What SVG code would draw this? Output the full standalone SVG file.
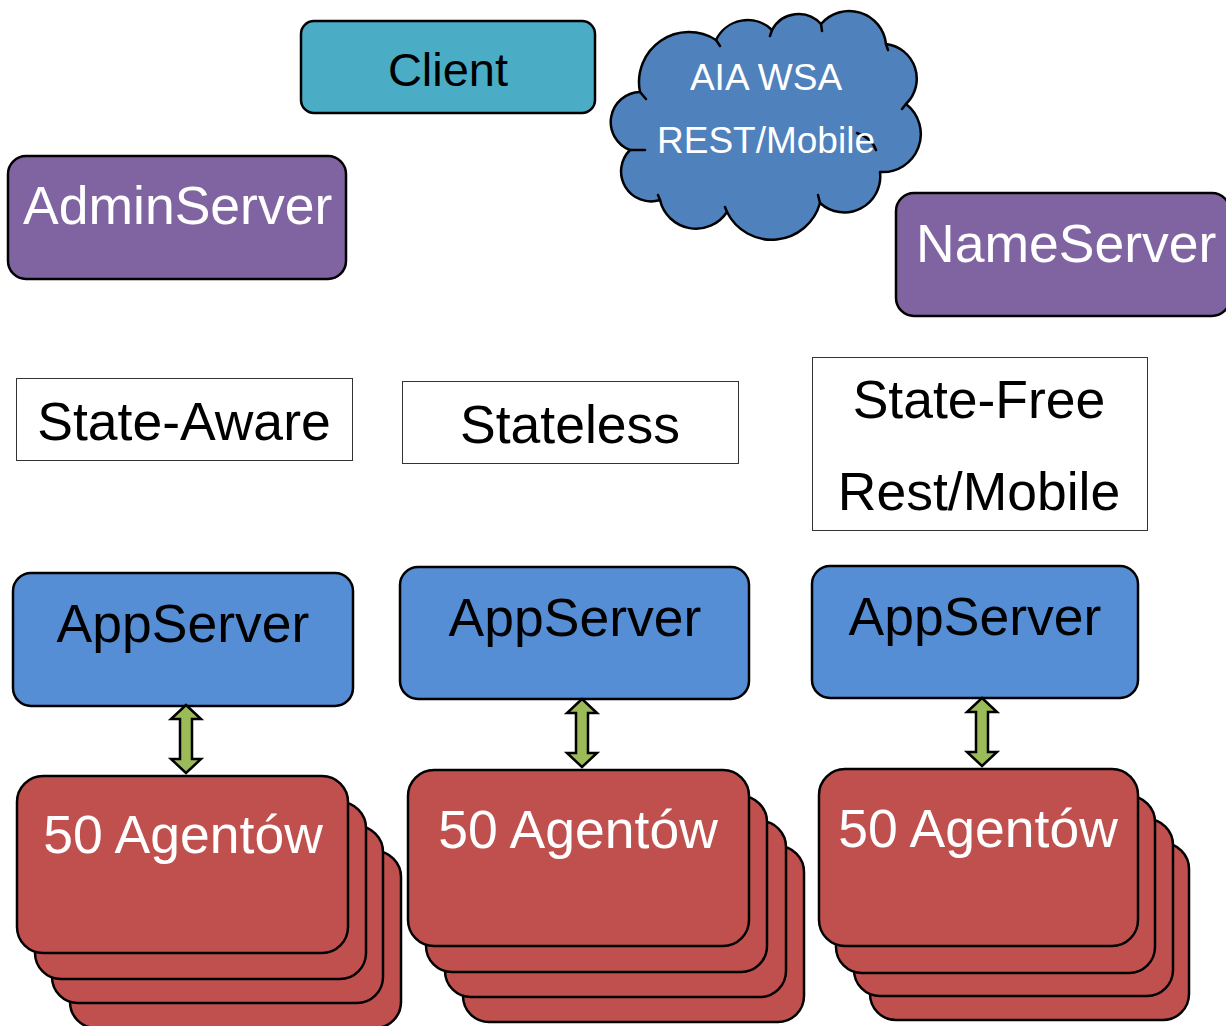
<svg xmlns="http://www.w3.org/2000/svg" width="1226" height="1026" viewBox="0 0 1226 1026">
<style>
  text { font-family: "Liberation Sans", Arial, sans-serif; text-anchor: middle; }
  .box { stroke: #000; stroke-width: 2.5; }
  .client { fill: #4bacc6; }
  .purple { fill: #8064a2; }
  .app { fill: #558ed5; }
  .agent { fill: #c0504d; stroke: #000; stroke-width: 2.5; }
  .label { fill: #fff; stroke: #333; stroke-width: 1; }
  .arrow { fill: #9bbb59; stroke: #000; stroke-width: 2.5; stroke-linejoin: miter; }
  .w { fill: #fff; }
  .k { fill: #000; }
  .big { font-size: 53.5px; }
  .notch { fill: none; stroke: #000; stroke-width: 2.5; stroke-linecap: round; }
</style>

<g id="client">
  <rect class="box client" x="301" y="21" width="294" height="92" rx="13"/>
  <text class="k" x="448" y="86" font-size="47">Client</text>
</g>

<g id="cloud">
  <path fill="#4f81bd" stroke="#000" stroke-width="2.5" stroke-linejoin="round"
    d="M640,92 A50,50 0 0 1 716,40 A35,35 0 0 1 772,30 A30,30 0 0 1 821,24 A37,37 0 0 1 886,44 A35,35 0 0 1 906,104 A38,38 0 0 1 880,172 A36,36 0 0 1 820,203 A50,50 0 0 1 727,212 A37,37 0 0 1 660,200 A30,30 0 0 1 630,150 A30,30 0 0 1 640,92 Z"/>
  <path class="notch" d="M640,92 L646,99 M716,40 L720,46 M772,30 L770,36 M821,24 L822,31 M886,44 L888,50 M906,104 L902,109 M857,133 Q872,138 876,150 M820,203 L818,195 M727,212 L725,207 M660,200 L658,195 M630,150 L645,150"/>
  <text class="w" x="766" y="90" font-size="37">AIA WSA</text>
  <text class="w" x="766" y="153" font-size="37">REST/Mobile</text>
</g>

<g id="adminserver">
  <rect class="box purple" x="8" y="156" width="338" height="123" rx="18"/>
  <text class="w big" x="23" y="224" style="text-anchor:start">AdminServer</text>
</g>

<g id="nameserver">
  <rect class="box purple" x="896" y="193" width="334" height="123" rx="18"/>
  <text class="w big" x="916" y="262" style="text-anchor:start">NameServer</text>
</g>

<g id="state-aware">
  <rect class="label" x="16.5" y="378.5" width="336" height="82"/>
  <text class="k big" x="184" y="440">State-Aware</text>
</g>

<g id="stateless">
  <rect class="label" x="402.5" y="381.5" width="336" height="82"/>
  <text class="k big" x="570" y="443">Stateless</text>
</g>

<g id="state-free">
  <rect class="label" x="812.5" y="357.5" width="335" height="173"/>
  <text class="k big" x="979" y="418">State-Free</text>
  <text class="k big" x="979" y="510">Rest/Mobile</text>
</g>

<g id="appserver1">
  <rect class="box app" x="13" y="573" width="340" height="133" rx="18"/>
  <text class="k big" x="183" y="642">AppServer</text>
</g>
<g id="appserver2">
  <rect class="box app" x="400" y="567" width="349" height="132" rx="18"/>
  <text class="k big" x="575" y="636">AppServer</text>
</g>
<g id="appserver3">
  <rect class="box app" x="812" y="566" width="326" height="132" rx="18"/>
  <text class="k big" x="975" y="635">AppServer</text>
</g>

<g id="agents1">
  <rect class="agent" x="70" y="851" width="331" height="177" rx="26"/>
  <rect class="agent" x="52" y="826" width="331" height="177" rx="26"/>
  <rect class="agent" x="35" y="802" width="331" height="177" rx="26"/>
  <rect class="agent" x="17" y="776" width="331" height="177" rx="26"/>
  <text class="w big" x="183" y="853">50 Agentów</text>
</g>
<g id="agents2">
  <rect class="agent" x="463" y="846" width="341" height="176" rx="26"/>
  <rect class="agent" x="445" y="821" width="341" height="176" rx="26"/>
  <rect class="agent" x="426" y="796" width="341" height="176" rx="26"/>
  <rect class="agent" x="408" y="770" width="341" height="176" rx="26"/>
  <text class="w big" x="578" y="848">50 Agentów</text>
</g>
<g id="agents3">
  <rect class="agent" x="870" y="843" width="319" height="177" rx="26"/>
  <rect class="agent" x="854" y="819" width="319" height="177" rx="26"/>
  <rect class="agent" x="836" y="796" width="319" height="177" rx="26"/>
  <rect class="agent" x="819" y="769" width="319" height="177" rx="26"/>
  <text class="w big" x="978" y="847">50 Agentów</text>
</g>

<g id="connectors">
  <path class="arrow" d="M186,705 L201,719 L192,719 L192,759 L201,759 L186,773 L171,759 L180,759 L180,719 L171,719 Z"/>
  <path class="arrow" d="M582,699 L597,713 L588,713 L588,753 L597,753 L582,767 L567,753 L576,753 L576,713 L567,713 Z"/>
  <path class="arrow" d="M982,698 L997,712 L988,712 L988,752 L997,752 L982,766 L967,752 L976,752 L976,712 L967,712 Z"/>
</g>
</svg>
